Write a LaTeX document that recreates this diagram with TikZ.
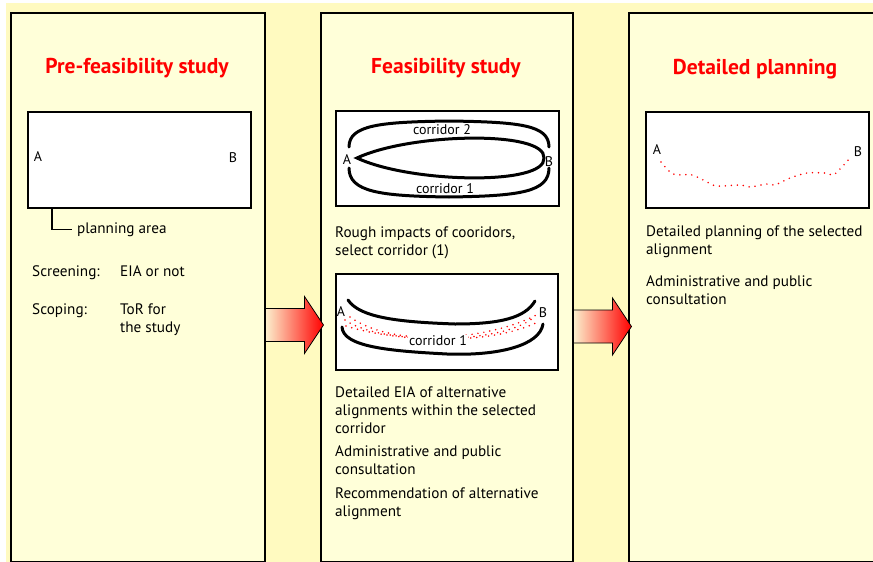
\documentclass[tikz,border=0pt]{standalone}
\usepackage{fontspec}
\setmainfont{PT Sans}
\usetikzlibrary{positioning, calc}
\definecolor{gapyellow}{RGB}{255,250,192}
\definecolor{panelyellow}{RGB}{255,255,217}
\definecolor{titlered}{RGB}{255,0,0}
\definecolor{arrowcream}{RGB}{252,240,205}

\begin{document}
\begin{tikzpicture}[
    x=1pt, y=-1pt,
    panel/.style={draw, line width=1.5pt, fill=panelyellow, anchor=north west, inner sep=0pt, minimum height=549},
    mapbox/.style={draw, line width=1.5pt, fill=white, anchor=north west, inner sep=0pt, minimum width=223, minimum height=96},
    title/.style={anchor=base, inner sep=0pt, text=titlered, font=\fontsize{21.5}{24}\selectfont\bfseries},
    txt/.style={anchor=base west, align=left, inner sep=0pt, font=\fontsize{15.2}{17.6}\selectfont},
    endpt/.style={inner sep=0pt, font=\fontsize{14}{16}\selectfont},
    corridor/.style={line width=3pt, line cap=round},
    route/.style={red, line width=1.7pt, line cap=round, dash pattern=on 0pt off 6pt},
    flow/.style={draw=black, line width=0.8pt, line join=miter, left color=arrowcream, right color=red}
]
\path[use as bounding box] (0,0) rectangle (873,562);
\clip (0,0) rectangle (873,562);
\fill[gapyellow] (6,3) rectangle (873,562);

% Panels
\node[panel, minimum width=254] (prefeas) at (10,12) {};
\node[panel, minimum width=252] (feas) at (320,12) {};
\node[panel, minimum width=262] (detailed) at (628,12) {};

% Pre-feasibility study
% (base of a two-line node is its last line)
\node[title] (t1) at (137,73) {Pre-feasibility study};
\node[mapbox] (area) at (27,111) {};
\node[endpt] (a1) at (38,157) {A};
\node[endpt] (b1) at (233,158) {B};
\node[txt] (parea) at (77,233.5) {planning area};
\draw[line width=1.5pt] ([xshift=25pt]area.south west) |- ([xshift=-5pt]parea.west);
\node[txt] (scr) at (32,276) {Screening:};
\node[txt] (eia) at (120,276) {EIA or not};
\node[txt] (scp) at (32,314.5) {Scoping:};
\node[txt] (tor) at (120,332.5) {ToR for\\the study};

% Feasibility study
\node[title] (t2) at (446,73) {Feasibility study};
\node[mapbox, line width=2pt, minimum height=95] (corr) at (335,110) {};
\draw[corridor] (349,147) .. controls (349,125) and (380,122) .. (449,121) .. controls (520,122) and (549,125) .. (549,147);
\draw[corridor] (349,168) .. controls (349,192) and (380,196) .. (449,197) .. controls (520,196) and (549,192) .. (549,168);
\draw[corridor] (357,158) .. controls (410,133) and (546,130) .. (544,158) .. controls (546,186) and (410,183) .. cycle;
\node[endpt] (a2) at (347,160) {A};
\node[endpt] (b2) at (549,162) {B};
\node[endpt] (c2) at (442,130) {corridor 2};
\node[endpt] (c1) at (445,189) {corridor 1};
\node[txt] (rough) at (335,255.5) {Rough impacts of cooridors,\\select corridor (1)};

\node[mapbox, line width=2pt, minimum width=222] (align) at (335,273) {};
\draw[corridor] (348,300) .. controls (360,318) and (400,322) .. (455,324) .. controls (500,324) and (525,318) .. (535,301);
\draw[corridor] (342,327) .. controls (343,347) and (390,351) .. (447,354) .. controls (500,356) and (540,345) .. (543,324);
\draw[route] (345,320) .. controls (380,345) and (500,345) .. (533,318);
\draw[route] (346,326) .. controls (390,340) and (480,348) .. (536,323);
\draw[route] (350,317) .. controls (400,352) and (500,336) .. (538,314);
\node[endpt] (a3) at (341,312) {A};
\node[endpt] (b3) at (543,313) {B};
\node[endpt, fill=white, inner sep=1pt] (c3) at (438,341) {corridor 1};
\node[txt] (deia) at (335,433) {Detailed EIA of alternative\\alignments within the selected\\corridor};
\node[txt] (adm2) at (335,474.5) {Administrative and public\\consultation};
\node[txt] (rec) at (335,516) {Recommendation of alternative\\alignment};

% Detailed planning
\node[title] (t3) at (755,74) {Detailed planning};
\node[mapbox] (detail) at (645,111) {};
\draw[route] plot[smooth] coordinates {(661,162) (673,174) (692,175) (707,182) (717,186) (740,185) (750,187) (767,184) (775,185) (790,178) (807,173) (825,173) (833,175) (840,169) (851,157)};
\node[endpt] (a4) at (657,150) {A};
\node[endpt] (b4) at (858,152) {B};
\node[txt] (dplan) at (646,254) {Detailed planning of the selected\\alignment};
\node[txt] (adm3) at (646,304) {Administrative and public\\consultation};

% Arrows
\coordinate (from1) at (prefeas.east |- 0,325);
\coordinate (from2) at (feas.east |- 0,326.5);
\path[flow] (from1) ++(0,-16.5) -- ++(39,0) -- ++(0,-12) -- ++(19,28.5) -- ++(-19,28.5) -- ++(0,-12) -- ++(-39,0) -- cycle;
\path[flow] (from2) ++(0,-16.5) -- ++(39,0) -- ++(0,-12) -- ++(19,28.5) -- ++(-19,28.5) -- ++(0,-12) -- ++(-39,0) -- cycle;

\end{tikzpicture}
\end{document}
